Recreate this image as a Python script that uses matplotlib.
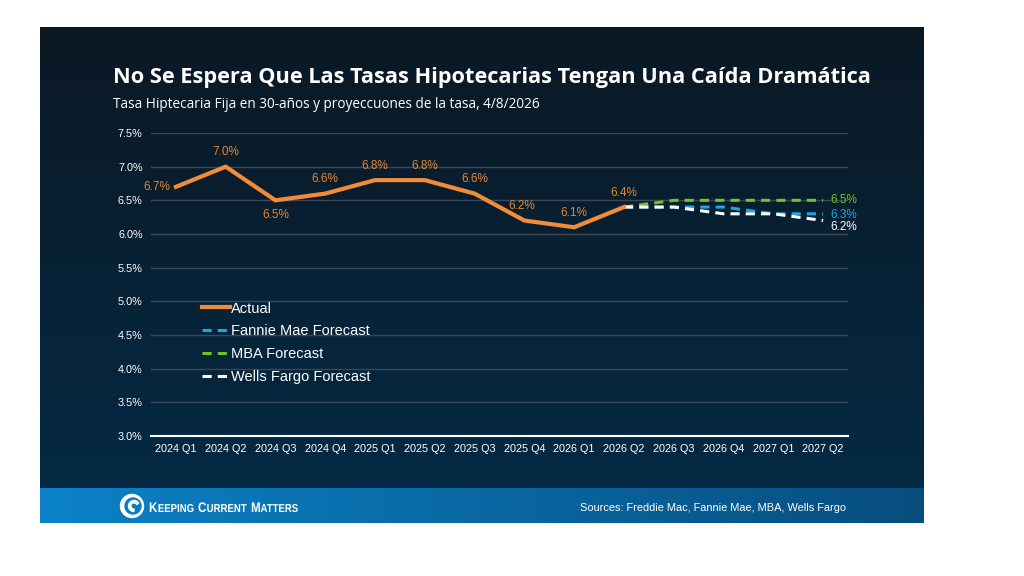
import numpy as np
import matplotlib
matplotlib.use("Agg")
import matplotlib.pyplot as plt
from matplotlib.patches import Circle, Wedge, PathPatch
from matplotlib.textpath import TextPath
from matplotlib.font_manager import FontProperties
from matplotlib.transforms import Affine2D

quarters = ["2024 Q1", "2024 Q2", "2024 Q3", "2024 Q4", "2025 Q1", "2025 Q2", "2025 Q3",
            "2025 Q4", "2026 Q1", "2026 Q2", "2026 Q3", "2026 Q4", "2027 Q1", "2027 Q2"]
actual = [6.7, 7.0, 6.5, 6.6, 6.8, 6.8, 6.6, 6.2, 6.1, 6.4]
# forecasts start from the last actual value (2026 Q2)
fannie = [6.4, 6.4, 6.3, 6.3]
mba = [6.5, 6.5, 6.5, 6.5]
wells = [6.4, 6.3, 6.3, 6.2]
yticks = [3.0, 3.5, 4.0, 4.5, 5.0, 5.5, 6.0, 6.5, 7.0, 7.5]

ORANGE = "#f28c38"
BLUE = "#1aa7e8"
GREEN = "#6cc61e"
LABEL_OR = "#e8862e"

fig = plt.figure(figsize=(10.24, 5.76), dpi=100)
fig.patch.set_facecolor("white")

# background panel in pixel coordinates
bg = fig.add_axes([0, 0, 1, 1], zorder=0)
bg.axis("off")
g = np.linspace(0, 1, 256).reshape(-1, 1)
c_top = np.array([0x0b, 0x18, 0x24]) / 255
c_bot = np.array([0x05, 0x2a, 0x45]) / 255
panel = c_top + (c_bot - c_top) * g
panel = np.repeat(panel[:, None, :], 2, axis=1)
bg.imshow(panel, extent=(40, 924, 488, 27), aspect="auto", interpolation="bilinear")
h = np.linspace(0, 1, 256).reshape(1, -1)
f_l = np.array([0x0b, 0x82, 0xc8]) / 255
f_r = np.array([0x07, 0x4e, 0x7e]) / 255
foot = f_l + (f_r - f_l) * h[..., None]
foot = np.repeat(foot, 2, axis=0)
bg.imshow(foot, extent=(40, 924, 523, 488), aspect="auto", interpolation="bilinear")
bg.set_xlim(0, 1024)
bg.set_ylim(576, 0)

bg.text(113, 77, "No Se Espera Que Las Tasas Hipotecarias Tengan Una Caída Dramática",
        color="white", fontsize=15.65, fontweight="bold", family="Open Sans", va="center")
bg.text(113, 105, "Tasa Hiptecaria Fija en 30-años y proyeccuones de la tasa, 4/8/2026",
        color="white", fontsize=9.8, family="Open Sans", va="center")
bg.text(846, 508, "Sources: Freddie Mac, Fannie Mae, MBA, Wells Fargo",
        color="white", fontsize=7.9, family="Liberation Sans", ha="right", va="center")

# logo: swirl icon + condensed small-caps wordmark
bg.add_patch(Circle((132, 506), 11.5, color="white", zorder=3))
bg.add_patch(Circle((133, 506), 8, color="#0a7cc1", zorder=4))
bg.add_patch(Wedge((134, 506), 5.5, 90, 330, width=2.4, color="white", zorder=5))
fp = FontProperties(family="Liberation Sans", weight="bold")
pieces = []
for big, small in [("K", "EEPING"), ("C", "URRENT"), ("M", "ATTERS")]:
    pieces.append(TextPath((0, 0), big, size=13.9, prop=fp))
    pieces.append(TextPath((0, 0), small, size=11.5, prop=fp))
widths = [p.get_extents().x1 for p in pieces]
gap = 4.5
sx = (296 - 149 - 2 * gap) / sum(widths)
xpos = 149
for k, p in enumerate(pieces):
    tr = Affine2D().scale(sx, -1).translate(xpos, 512)
    bg.add_patch(PathPatch(tr.transform_path(p), color="white", lw=0, zorder=5))
    xpos += widths[k] * sx + (gap if k % 2 == 1 else 0.6)

ax = fig.add_axes([151 / 1024, 140 / 576, 697 / 1024, 303 / 576], zorder=2)
ax.set_facecolor("none")
x = np.arange(len(quarters))
xa = x[:len(actual)]
xf = x[len(actual) - 1:]
start = actual[-1]
ax.plot(xf, [start] + fannie, color=BLUE, lw=2.2, ls=(0, (3, 2)), label="Fannie Mae Forecast", zorder=3)
ax.plot(xf, [start] + mba, color=GREEN, lw=2.2, ls=(0, (3, 2)), label="MBA Forecast", zorder=3)
ax.plot(xf, [start] + wells, color="white", lw=2.2, ls=(0, (3, 2)), label="Wells Fargo Forecast", zorder=4)
ax.plot(xa, actual, color=ORANGE, lw=3, label="Actual", zorder=5)

for i, v in enumerate(actual):
    if i == 0:
        off, ha, va = (-4, 0), "right", "center"
    elif i == 2:
        off, ha, va = (0, -6), "center", "top"
    elif i == 7:
        off, ha, va = (-2, 6), "center", "bottom"
    else:
        off, ha, va = (0, 6), "center", "bottom"
    ax.annotate(f"{v:.1f}%", (i, v), xytext=off, textcoords="offset points",
                ha=ha, va=va, color=LABEL_OR, fontsize=8.5, family="Liberation Sans")

last = x[-1]
for vals, col, dy in [(mba, GREEN, 0), (fannie, BLUE, -1), (wells, "white", -5)]:
    ax.annotate(f"{vals[-1]:.1f}%", (last, vals[-1]), xytext=(5, dy), textcoords="offset points",
                ha="left", va="center", color=col, fontsize=8.5, family="Liberation Sans")

ax.set_xlim(-0.5, len(quarters) - 0.5)
ax.set_ylim(3.0, 7.5)
ax.set_yticks(yticks)
ax.set_yticklabels([f"{v:.1f}%" for v in yticks])
ax.set_xticks(x)
ax.set_xticklabels(quarters)
ax.tick_params(length=0, colors="white", labelsize=7.8, pad=6)
for lab in ax.get_xticklabels() + ax.get_yticklabels():
    lab.set_family("Liberation Sans")
ax.grid(axis="y", color="#3b4752", lw=1)
ax.set_axisbelow(True)
for s in ["top", "right", "left"]:
    ax.spines[s].set_visible(False)
ax.spines["bottom"].set_color("white")
ax.spines["bottom"].set_linewidth(1.5)

handles, labels = ax.get_legend_handles_labels()
order = [3, 0, 1, 2]
leg = ax.legend([handles[i] for i in order], [labels[i] for i in order],
                loc="upper left", bbox_to_anchor=(0.0545, 0.487), frameon=False,
                labelcolor="white", prop={"family": "Liberation Sans", "size": 10.5},
                handlelength=1.9, handletextpad=0.05, labelspacing=0.6)

fig.savefig("out.png", dpi=100, facecolor="white")
